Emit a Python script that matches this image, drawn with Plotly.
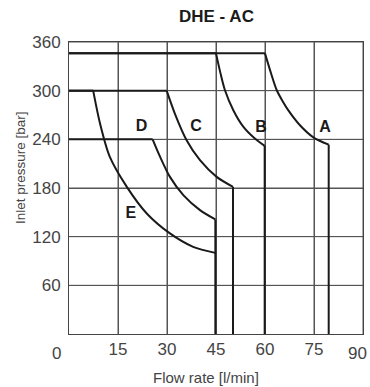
import plotly.graph_objects as go

# ---- data (flow rate l/min, inlet pressure bar) ----
x_ticks = [15, 30, 45, 60, 75, 90]
y_ticks = [60, 120, 180, 240, 300, 360]
x_range = [0, 90]
y_range = [0, 360]

A_x = [0, 60.0, 61.8, 63.6, 65.4, 67.1, 70.7, 74.8, 79.5, 79.5]
A_y = [346, 346, 322, 300.5, 287, 276, 257.4, 242.5, 233.5, 0]
B_x = [0, 45.0, 46.4, 47.75, 50.3, 53.4, 56.9, 59.9, 59.9]
B_y = [346, 346, 321, 300.5, 275.9, 255.3, 241.0, 232, 0]
C_x = [0, 29.9, 32.4, 36.0, 40.1, 45.2, 50.2, 50.2]
C_y = [300, 300, 271.8, 238.9, 214.3, 193.7, 181.4, 0]
D_x = [0, 25.6, 27.9, 30.9, 35.0, 40.1, 44.8, 44.8]
D_y = [240, 240, 218.3, 193.7, 171.2, 152.7, 141.2, 0]
E_x = [0, 7.4, 9.5, 12.5, 17.7, 23.8, 30.9, 38.0, 44.8]
E_y = [300, 300, 259.5, 218.3, 181.4, 148.6, 124.0, 107.5, 100.0]

labels = ["A", "B", "C", "D", "E"]
label_x = [78.4, 58.8, 38.9, 22.2, 18.9]
label_y = [254.5, 254.5, 255, 255, 148]

series = [(A_x, A_y, True), (B_x, B_y, True), (C_x, C_y, True),
          (D_x, D_y, True), (E_x, E_y, False)]

fig = go.Figure()

# grid lines as individual thin traces at the tick values
grid_line = dict(color="#555555", width=1)
for v in x_ticks:
    fig.add_trace(go.Scatter(x=[v, v], y=y_range, mode="lines", line=grid_line,
                             hoverinfo="skip", showlegend=False))
for v in y_ticks:
    fig.add_trace(go.Scatter(x=x_range, y=[v, v], mode="lines", line=grid_line,
                             hoverinfo="skip", showlegend=False))

line = dict(color="#1a1a1a", width=2)
for sx, sy, has_drop in series:
    fig.add_trace(go.Scatter(x=sx[0:2], y=sy[0:2], mode="lines", line=line,
                             hoverinfo="skip", showlegend=False))
    end = len(sx) - 1 if has_drop else len(sx)
    fig.add_trace(go.Scatter(x=sx[1:end], y=sy[1:end], mode="lines",
                             line=dict(color="#1a1a1a", width=2, shape="spline", smoothing=0.8),
                             hoverinfo="skip", showlegend=False))
    if has_drop:
        fig.add_trace(go.Scatter(x=sx[-2:], y=sy[-2:], mode="lines", line=line,
                                 hoverinfo="skip", showlegend=False))

fig.add_trace(go.Scatter(x=label_x, y=label_y, mode="text", text=labels,
                         textfont=dict(family="Liberation Sans, Arial", size=16, color="#1a1a1a"),
                         texttemplate="<b>%{text}</b>",
                         hoverinfo="skip", showlegend=False))

tickfont = dict(family="Liberation Sans, Arial", size=17, color="#444444")

axis_common = dict(showgrid=True, gridcolor="#555555", gridwidth=1, zeroline=False,
                   showline=True, linecolor="#444444", linewidth=1, mirror=True,
                   ticks="", tickfont=tickfont, fixedrange=True, tickmode="array")

fig.update_layout(
    width=370, height=387,
    margin=dict(l=69, r=7, t=42, b=53),
    paper_bgcolor="white", plot_bgcolor="white",
    xaxis=dict(range=x_range, tickvals=x_ticks, ticktext=[str(v) for v in x_ticks[:-1]] + [""],
               **axis_common),
    yaxis=dict(range=y_range, tickvals=y_ticks, ticktext=[str(v) for v in y_ticks],
               ticklabelstandoff=4, **axis_common),
    annotations=[
        dict(text="<b>DHE - AC</b>", xref="paper", yref="paper",
             x=(216.5 - 69) / 294, y=(334 - 16.7) / 292, xanchor="center", yanchor="middle",
             showarrow=False, font=dict(family="Liberation Sans, Arial", size=17, color="#1a1a1a")),
        dict(text="0", xref="paper", yref="paper",
             x=(56.5 - 69) / 294, y=(334 - 353) / 292, xanchor="center", yanchor="middle",
             showarrow=False, font=tickfont),
        dict(text=str(x_ticks[-1]), xref="paper", yref="paper",
             x=(369 - 69) / 294, y=(334 - 353) / 292, xanchor="right", yanchor="middle",
             showarrow=False, font=tickfont),
        dict(text="Flow rate [l/min]", xref="paper", yref="paper",
             x=(206 - 69) / 294, y=(334 - 377) / 292, xanchor="center", yanchor="middle",
             showarrow=False, font=dict(family="Liberation Sans, Arial", size=15, color="#444444")),
        dict(text="Inlet pressure [bar]", xref="paper", yref="paper", textangle=-90,
             x=(20 - 69) / 294, y=(334 - 168) / 292, xanchor="center", yanchor="middle",
             showarrow=False, font=dict(family="Liberation Sans, Arial", size=13.5, color="#444444")),
    ],
)

fig.write_html("out.html")
